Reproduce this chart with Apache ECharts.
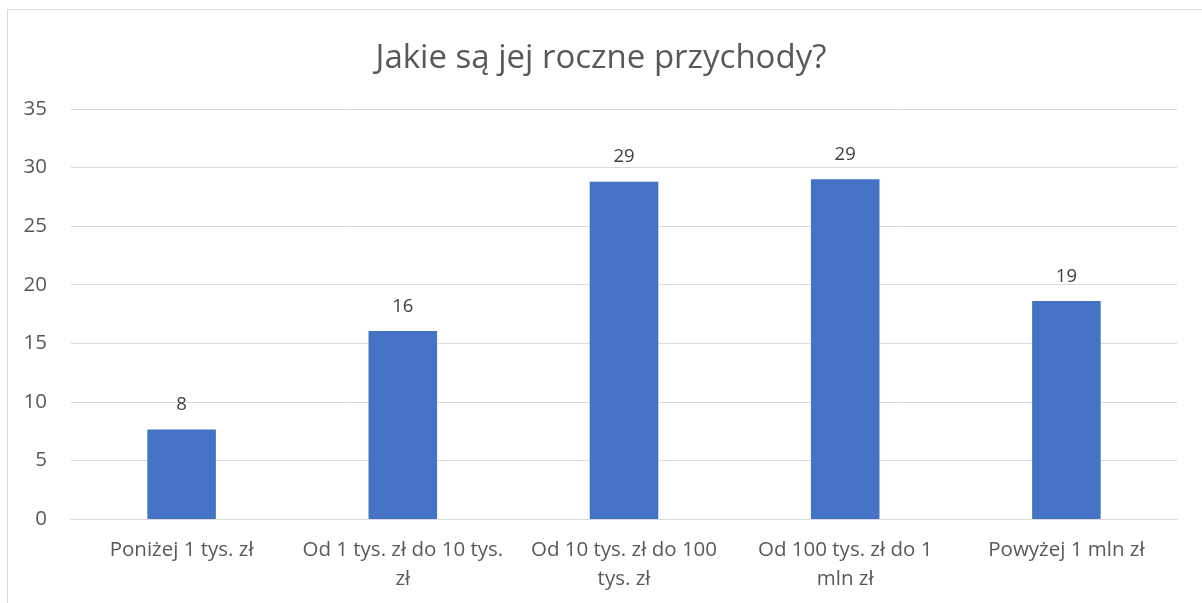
<!DOCTYPE html>
<html>
<head>
<meta charset="utf-8">
<script src="https://cdn.jsdelivr.net/npm/echarts@6/dist/echarts.min.js"></script>
<style>
html,body{margin:0;padding:0;background:#fff;}
#frame{position:absolute;left:7px;top:9px;width:1200px;height:600px;border:1px solid #d9d9d9;box-sizing:border-box;}
#chart{position:absolute;left:0;top:0;width:1202px;height:603px;}
</style>
</head>
<body>
<div id="frame"></div>
<div id="chart"></div>
<script>
const titleText = 'Jakie są jej roczne przychody?';
const categories = ['Poniżej 1 tys. zł', 'Od 1 tys. zł do 10 tys.\nzł', 'Od 10 tys. zł do 100\ntys. zł', 'Od 100 tys. zł do 1\nmln zł', 'Powyżej 1 mln zł'];
const values = [7.65, 16.05, 28.8, 29.0, 18.6];
const yTicks = {min: 0, max: 35, interval: 5};

const chart = echarts.init(document.getElementById('chart'));
chart.setOption({
  backgroundColor: 'transparent',
  animation: false,
  title: {
    text: titleText,
    left: 'center',
    top: 37,
    textStyle: {fontFamily: 'Open Sans', fontSize: 33, fontWeight: 'normal', color: '#595959'}
  },
  grid: {left: 71, right: 25, top: 109, bottom: 84, containLabel: false},
  xAxis: {
    type: 'category',
    data: categories,
    axisLine: {lineStyle: {color: '#d9d9d9', width: 1}},
    axisTick: {show: false},
    axisLabel: {
      interval: 0,
      color: '#595959',
      fontFamily: 'Open Sans',
      fontSize: 20.5,
      margin: 17,
      lineHeight: 29
    }
  },
  yAxis: {
    type: 'value',
    min: yTicks.min, max: yTicks.max, interval: yTicks.interval,
    axisLine: {show: false},
    axisTick: {show: false},
    splitLine: {lineStyle: {color: '#d9d9d9', width: 1}},
    axisLabel: {color: '#595959', fontFamily: 'Open Sans', fontSize: 20.5, margin: 24}
  },
  series: [{
    type: 'bar',
    data: values,
    barWidth: '31%',
    itemStyle: {color: '#4472C4'},
    label: {
      show: true,
      position: 'top',
      distance: 15,
      color: '#404040',
      fontFamily: 'Open Sans',
      fontSize: 18.5,
      formatter: p => Math.round(p.value)
    }
  }]
});
</script>
</body>
</html>
